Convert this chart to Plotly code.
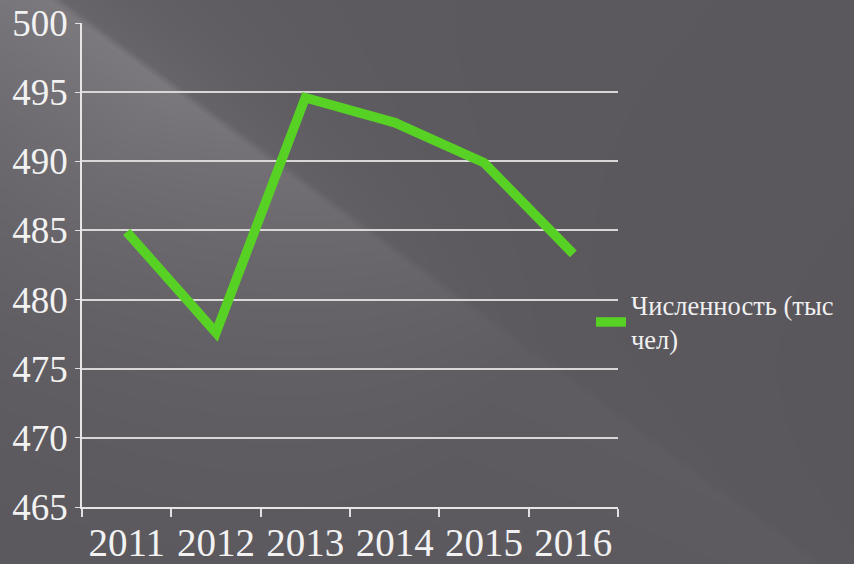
import math, zlib, struct, base64
import numpy as np
import plotly.graph_objects as go

years = ["2011", "2012", "2013", "2014", "2015", "2016"]
population = [484.9, 477.6, 494.6, 492.8, 489.9, 483.3]
series_name = "Численность (тыс<br>чел)"
y_ticks = [465, 470, 475, 480, 485, 490, 495, 500]

SERIF = "Liberation Serif, Tinos, Times New Roman, serif"
W, H = 854, 564
L_, R_, T_, B_ = 82, 236, 23, 57
PW, PH = W - L_ - R_, H - T_ - B_

# ---- decorative background: dark grey with a soft diagonal light streak ----
def make_background():
    yy, xx = np.mgrid[0:H, 0:W].astype(float)
    norm = math.hypot(1, 0.74)
    ux, uy = 1 / norm, 0.74 / norm
    nx, ny = -uy, ux
    s = (xx - 88) * ux + (yy - 23) * uy
    d = (xx - 88) * nx + (yy - 23) * ny
    g = np.clip(1 - (s - 100) / 450 * 0.85, 0.15, 1.0)
    below = 0.19 * np.clip(1 - d / 500, 0, 1) ** 2
    above = 0.07 * np.exp(np.minimum(d, 0) / 70)
    t = np.clip((d + 4) / 8, 0, 1)
    lit = (below * t + above * (1 - t)) * g
    lit += 0.025 * np.clip(1 - (xx + yy) / 1400, 0, 1)
    base = np.array([89, 86, 92], dtype=float)
    img = base[None, None, :] + lit[:, :, None] * (255 - base[None, None, :])
    img = np.clip(img, 0, 255).astype(np.uint8)
    raw = b"".join(b"\x00" + img[r].tobytes() for r in range(H))
    def chunk(tag, data):
        c = struct.pack(">I", len(data)) + tag + data
        return c + struct.pack(">I", zlib.crc32(tag + data) & 0xffffffff)
    png = (b"\x89PNG\r\n\x1a\n" + chunk(b"IHDR", struct.pack(">IIBBBBB", W, H, 8, 2, 0, 0, 0))
           + chunk(b"IDAT", zlib.compress(raw, 9)) + chunk(b"IEND", b""))
    return "data:image/png;base64," + base64.b64encode(png).decode()

fig = go.Figure()
fig.add_trace(go.Scatter(
    x=years, y=population, mode="lines", name=series_name,
    line=dict(color="#58d125", width=9.5),
    showlegend=True,
))

fig.update_layout(
    width=W, height=H,
    margin=dict(l=L_, r=R_, t=T_, b=B_),
    paper_bgcolor="#59565c",
    plot_bgcolor="rgba(0,0,0,0)",
    images=[dict(source=make_background(), xref="paper", yref="paper",
                 x=-L_ / PW, y=1 + T_ / PH, sizex=W / PW, sizey=H / PH,
                 xanchor="left", yanchor="top", sizing="stretch", layer="below")],
    showlegend=True,
    legend=dict(x=(591 - L_) / PW, y=(H - B_ - 322) / PH,
                xanchor="left", yanchor="middle",
                font=dict(family=SERIF, size=26.5, color="#f0f0f0"),
                bgcolor="rgba(0,0,0,0)", itemwidth=30),
    xaxis=dict(
        type="category", tickson="boundaries", ticks="outside", ticklen=8,
        tickcolor="#e0e0e0", tickwidth=1.5, tickangle=0, automargin=False,
        showline=True, linecolor="#e6e6e6", linewidth=1.5,
        showgrid=False,
        tickfont=dict(family=SERIF, size=39, color="#f2f2f2"),
        range=[-0.5, 5.5],
    ),
    yaxis=dict(
        range=[465, 500], tickvals=y_ticks, ticks="outside", ticklen=5,
        tickcolor="#e0e0e0", automargin=False,
        showline=True, linecolor="#e6e6e6", linewidth=1.5,
        showgrid=True, gridcolor="#d8d8d8", gridwidth=1.5,
        tickfont=dict(family=SERIF, size=37, color="#f2f2f2"),
        zeroline=False,
    ),
)

fig.write_html("out.html", config={"displayModeBar": False},
               post_script="document.body.style.margin='0';document.body.style.overflow='hidden';")
